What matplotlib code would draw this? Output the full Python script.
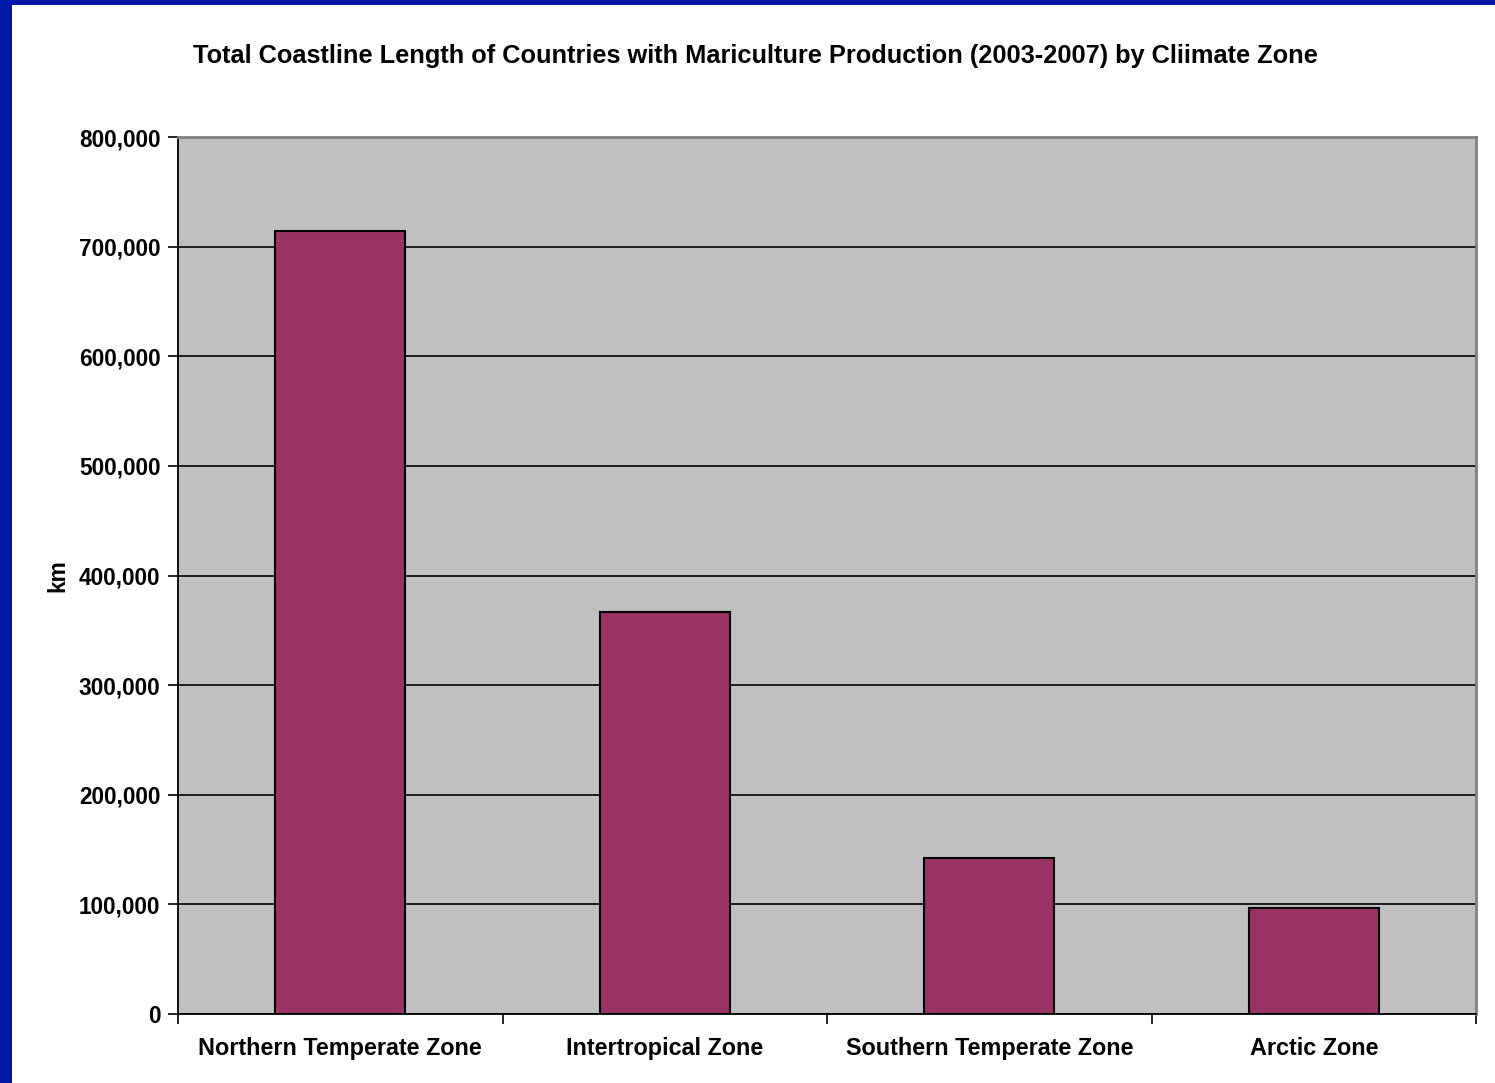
import matplotlib
matplotlib.use('Agg')
import matplotlib.pyplot as plt
from matplotlib.patches import Rectangle
from matplotlib.ticker import FuncFormatter, FixedLocator

zones = ['Northern Temperate Zone', 'Intertropical Zone', 'Southern Temperate Zone', 'Arctic Zone']
coastline_km = [714000, 366800, 142300, 96700]

plt.rcParams['font.family'] = ['Liberation Sans', 'DejaVu Sans']
plt.rcParams['font.weight'] = 'bold'

fig = plt.figure(figsize=(14.95, 10.83), dpi=100)
fig.patch.set_facecolor('white')

# blue frame strips on left and top
fig.patches.append(Rectangle((0, 0), 12 / 1495, 1, transform=fig.transFigure,
                             facecolor='#0018A8', edgecolor='none', zorder=0))
fig.patches.append(Rectangle((0, 1 - 5 / 1083), 1, 5 / 1083, transform=fig.transFigure,
                             facecolor='#0018A8', edgecolor='none', zorder=0))

ax = fig.add_axes([178 / 1495, 1 - 1014 / 1083, (1476 - 178) / 1495, (1014 - 137) / 1083])
ax.set_facecolor('#C0C0C0')

x = list(range(len(zones)))
ax.bar(x, coastline_km, width=0.4, color='#993366', edgecolor='black', linewidth=1.5, zorder=3)

ax.set_xlim(-0.5, len(zones) - 0.5)
ax.set_ylim(0, 800000)
ax.set_yticks(range(0, 800001, 100000))
ax.yaxis.set_major_formatter(FuncFormatter(lambda v, p: f'{int(v):,}'))
ax.grid(axis='y', color='black', linewidth=1.2, zorder=1)
ax.set_axisbelow(True)

ax.set_xticks(x)
ax.set_xticklabels(zones, fontsize=16.8, fontweight='bold')
ax.tick_params(axis='x', length=0, pad=16.4)
ax.xaxis.set_minor_locator(FixedLocator([i - 0.5 for i in range(len(zones) + 1)]))
ax.tick_params(axis='x', which='minor', length=7, width=1.2, color='black')
ax.tick_params(axis='y', length=7, width=1.2, labelsize=16.3, pad=5.7)
for lab in ax.get_yticklabels():
    lab.set_fontweight('bold')

ax.set_ylabel('km', fontsize=16.3, fontweight='bold', labelpad=6.5)

for side in ['left', 'bottom']:
    ax.spines[side].set_color('black')
    ax.spines[side].set_linewidth(1.3)
for side in ['top', 'right']:
    ax.spines[side].set_color('#808080')
    ax.spines[side].set_linewidth(2)

fig.text(755 / 1495, 1 - 56 / 1083,
         'Total Coastline Length of Countries with Mariculture Production (2003-2007) by Cliimate Zone',
         ha='center', va='center', fontsize=18.3, fontweight='bold')

fig.savefig('out.png', dpi=100)
